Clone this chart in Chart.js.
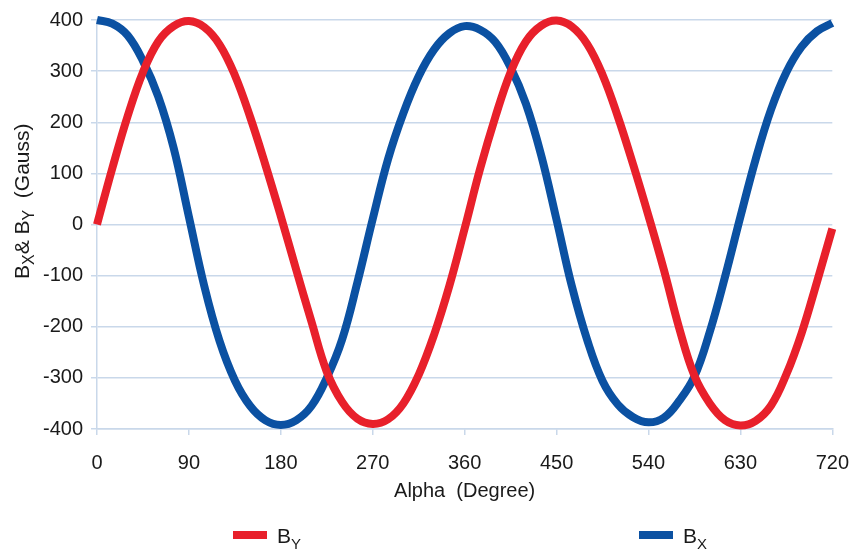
<!DOCTYPE html>
<html>
<head>
<meta charset="utf-8">
<script src="https://cdn.jsdelivr.net/npm/chart.js@4"></script>
<style>
  body { margin: 0; background: #fff; }
  #chart { display: block; }
</style>
</head>
<body>
<canvas id="chart" width="865" height="551"></canvas>
<script>
// Angles in degrees (every 15)
const angles = [0, 15, 30, 45, 60, 75, 90, 105, 120, 135, 150, 165, 180, 195, 210, 225, 240, 255, 270, 285, 300, 315, 330, 345, 360,
                375, 390, 405, 420, 435, 450, 465, 480, 495, 510, 525, 540, 555, 570, 585, 600, 615, 630, 645, 660, 675, 690, 705, 720];

// B_Y (Gauss)
const byValues = [0, 110, 212, 298, 358, 388, 398, 386, 352, 292, 210, 116, 16, -88, -190, -288, -347, -380, -390, -381, -350, -294, -216, -120, -8,
                  108, 210, 298, 358, 389, 399, 387, 353, 293, 211, 117, 17, -88, -202, -296, -350, -383, -393, -384, -354, -293, -212, -112, -8];

// B_X (Gauss)
const bxValues = [400, 393, 370, 320, 250, 150, 15, -120, -228, -305, -355, -383, -392, -383, -355, -300, -225, -113, 11, 128, 218, 290, 342, 374, 388,
                  381, 357, 307, 236, 135, 9, -121, -226, -306, -352, -377, -387, -378, -345, -297, -210, -102, 15, 128, 225, 298, 348, 378, 394];

const xTicks = [0, 90, 180, 270, 360, 450, 540, 630, 720];
const yTicks = [-400, -300, -200, -100, 0, 100, 200, 300, 400];

const RED = '#e8202b';
const BLUE = '#0b51a2';
const GRID = '#c9d8ea';
const TEXT = '#1a1a1a';
const FONT = '"Liberation Sans", Arial, sans-serif';

// draws text runs with subscripts starting at (0,0) baseline
function drawRich(ctx, parts, size, subSize, subDrop) {
    let x = 0;
    parts.forEach(p => {
        if (p.sub) {
            ctx.font = `${subSize}px ${FONT}`;
            ctx.fillText(p.t, x, subDrop);
        } else {
            ctx.font = `${size}px ${FONT}`;
            ctx.fillText(p.t, x, 0);
        }
        x += ctx.measureText(p.t).width;
    });
}

const textPlugin = {
    id: 'texts',
    afterDraw(chart) {
        const ctx = chart.ctx;
        const area = chart.chartArea;
        ctx.save();
        ctx.fillStyle = TEXT;
        ctx.textBaseline = 'alphabetic';

        // x axis title
        ctx.font = `20px ${FONT}`;
        ctx.textAlign = 'center';
        ctx.fillText('Alpha  (Degree)', (area.left + area.right) / 2, 497);

        // y axis title
        ctx.textAlign = 'left';
        ctx.save();
        ctx.translate(29, 279);
        ctx.rotate(-Math.PI / 2);
        drawRich(ctx, [{ t: 'B' }, { t: 'X', sub: true }, { t: '& B' }, { t: 'Y', sub: true }, { t: '  (Gauss)' }], 21, 16, 5);
        ctx.restore();

        // legend
        const legend = [
            { color: RED, sub: 'Y', x: 233 },
            { color: BLUE, sub: 'X', x: 639 }
        ];
        legend.forEach(item => {
            ctx.fillStyle = item.color;
            ctx.fillRect(item.x, 531, 34, 8);
            ctx.fillStyle = TEXT;
            ctx.save();
            ctx.translate(item.x + 44, 543);
            drawRich(ctx, [{ t: 'B' }, { t: item.sub, sub: true }], 21, 15, 6);
            ctx.restore();
        });
        ctx.restore();
    }
};

const ctx = document.getElementById('chart').getContext('2d');
new Chart(ctx, {
    type: 'line',
    data: {
        datasets: [
            {
                label: 'BY',
                data: angles.map((a, i) => ({ x: a, y: byValues[i] })),
                borderColor: RED,
                borderWidth: 8,
                pointRadius: 0,
                tension: 0.4,
                clip: 10
            },
            {
                label: 'BX',
                data: angles.map((a, i) => ({ x: a, y: bxValues[i] })),
                borderColor: BLUE,
                borderWidth: 8,
                pointRadius: 0,
                tension: 0.4,
                clip: 10
            }
        ]
    },
    options: {
        responsive: false,
        animation: false,
        layout: { padding: { top: 19, right: 29, left: 0, bottom: 0 } },
        plugins: {
            legend: { display: false },
            tooltip: { enabled: false }
        },
        scales: {
            x: {
                type: 'linear',
                min: 0,
                max: 720,
                afterBuildTicks: scale => { scale.ticks = xTicks.map(v => ({ value: v })); },
                afterFit: scale => { scale.height = 122; },
                ticks: { color: TEXT, font: { family: FONT, size: 20 }, padding: 16, autoSkip: false, maxRotation: 0 },
                grid: { drawOnChartArea: false, color: GRID, tickLength: 6, lineWidth: 1.5 },
                border: { color: GRID, width: 1.5 }
            },
            y: {
                min: -400,
                max: 400,
                afterBuildTicks: scale => { scale.ticks = yTicks.map(v => ({ value: v })); },
                afterFit: scale => { scale.width = 97; },
                ticks: { color: TEXT, font: { family: FONT, size: 20 }, padding: 8 },
                grid: { color: GRID, tickLength: 6, lineWidth: 1.5 },
                border: { color: GRID, width: 1.5 }
            }
        }
    },
    plugins: [textPlugin]
});
</script>
</body>
</html>
